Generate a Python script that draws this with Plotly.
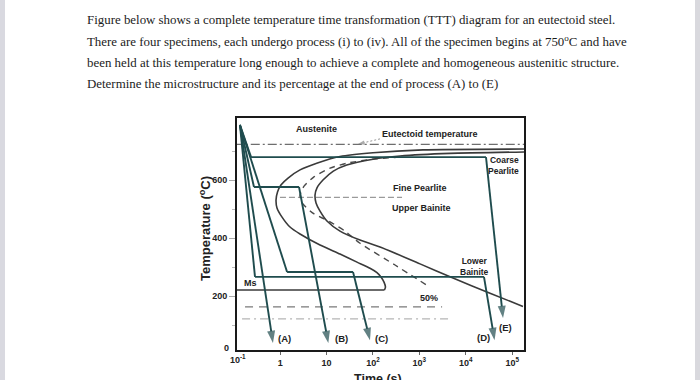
import plotly.graph_objects as go
import math

# ---------------- data (time in s, temperature in degC) ----------------
start_t = [1.8e5, 1200, 100, 19.5, 6.14, 2.68, 1.48, 1.04, 0.877, 0.815,
           0.855, 1.08, 1.63, 2.68, 7.23, 19.5, 45.3, 86.3, 122, 149, 173, 186, 177]
start_T = [707, 704, 694, 681, 658, 635, 607, 583, 559, 531,
           504, 474, 438, 414, 376, 345, 317, 296, 281, 266, 248, 231, 221]

half_t = [383, 111, 27.2, 11.9, 5.36, 3.27, 2.68, 2.96, 5.18, 11.9, 24.9, 51.6, 299, 1535]
half_T = [679, 673, 658, 641, 611, 579, 548, 521, 485, 456, 424, 383, 307, 235]

finish_t = [1.8e5, 4570, 383, 100, 27.2, 14.0, 8.37, 6.22, 5.64, 5.93, 7.23, 10.2,
            19.5, 52.5, 142, 1033, 5310, 33300, 1.71e5]
finish_T = [697, 692, 683, 672, 652, 631, 600, 573, 548, 521, 493, 459,
            424, 393, 369, 311, 262, 210, 164]

# cooling paths (A)-(E)
path_A_t = [0.136, 0.70]
path_A_T = [790, 38]
path_B_t = [0.136, 0.273, 2.55, 10.9]
path_B_T = [790, 576, 576, 38]
path_C_t = [0.136, 1.41, 37.2, 86.3]
path_C_T = [790, 283, 283, 48]
path_D_t = [0.136, 0.287, 24700, 41700]
path_D_T = [790, 266, 266, 48]
path_E_t = [0.136, 0.236, 27300, 63500]
path_E_T = [790, 679, 679, 124]

# reference lines
eutectoid_t = [0.1, 2.0e5]
eutectoid_T = [723, 723]
boundary_t = [0.99, 423]
boundary_T = [540, 540]
ms_t = [0.1, 177]
ms_T = [221, 221]
m50_t = [0.175, 3090]
m50_T = [163, 163]
m90_t = [0.151, 4570]
m90_T = [121, 121]
eut_arrow_t = [142, 47.6]
eut_arrow_T = [742, 724]

x_tickvals = [1, 10, 100, 1000, 1e4, 1e5]
x_ticktext = ["1", "10", "10<sup>2</sup>", "10<sup>3</sup>", "10<sup>4</sup>", "10<sup>5</sup>"]
y_tickvals = [200, 400, 600]

region_labels = ["Austenite", "Eutectoid temperature", "Coarse<br>Pearlite", "Fine Pearlite",
                 "Upper Bainite", "Lower<br>Bainite", "50%", "Ms"]
region_t = [5.93, 1700, 1.55e5, 1033, 1120, 15800, 1620, 0.151]
region_T = [775, 759, 649, 572, 503, 302, 192, 244]

path_labels = ["(A)", "(B)", "(C)", "(D)", "(E)"]
path_label_t = [1.27, 21.2, 149, 24700, 72400]
path_label_T = [52, 52, 52, 56, 93]

paragraph = [
    "Figure below shows a complete temperature time transformation (TTT) diagram for an eutectoid steel.",
    "There are four specimens, each undergo process (i) to (iv). All of the specimen begins at 750<sup>o</sup>C and have",
    "been held at this temperature long enough to achieve a complete and homogeneous austenitic structure.",
    "Determine the microstructure and its percentage at the end of process (A) to (E)",
]

# ---------------- styling ----------------
TEAL = "#1f4c4e"
CURVE = "#3a3a3a"
SANS = "Liberation Sans"
SERIF = "Liberation Serif"

# plot area in pixels (for paper-coordinate placement of page elements)
L, R, T_, B = 237, 524, 118, 350
W, H = 700, 380


def px(xp):
    return (xp - L) / (R - L)


def py(yp):
    return (B - yp) / (B - T_)


fig = go.Figure()


def line(t, T, color, width, dash="solid", shape="linear"):
    fig.add_trace(go.Scatter(x=t, y=T, mode="lines",
                             line=dict(color=color, width=width, dash=dash, shape=shape,
                                       smoothing=0.6),
                             hoverinfo="skip", showlegend=False))


def arrow_path(t, T, color, width, size=13, dash="solid"):
    n = len(t)
    fig.add_trace(go.Scatter(
        x=t, y=T, mode="lines+markers",
        line=dict(color=color, width=width, dash=dash),
        marker=dict(symbol=["circle"] * (n - 1) + ["arrow"],
                    size=[0] * (n - 1) + [size],
                    angleref="previous", color=color,
                    line=dict(width=0)),
        hoverinfo="skip", showlegend=False))


# reference lines
line(eutectoid_t, eutectoid_T, "#6e6e6e", 1.2, "9px,3px,2px,3px")
line(boundary_t, boundary_T, "#9a9a9a", 1.2, "6px,3px")
line(m50_t, m50_T, "#7a7a7a", 1.3, "8px,6px")
line(m90_t, m90_T, "#b5b5b5", 1.2, "8px,4px,2px,4px")
line(ms_t, ms_T, CURVE, 1.5)

# C curves
line(start_t, start_T, CURVE, 1.6, shape="spline")
line(half_t, half_T, "#4a4a4a", 1.4, dash="6px,5px", shape="spline")
line(finish_t, finish_T, CURVE, 1.6, shape="spline")

# eutectoid pointer
arrow_path(eut_arrow_t, eut_arrow_T, "#888888", 0.9, size=7, dash="2px,2px")

# cooling paths
for pt, pT in [(path_A_t, path_A_T), (path_B_t, path_B_T), (path_C_t, path_C_T),
               (path_D_t, path_D_T), (path_E_t, path_E_T)]:
    arrow_path(pt, pT, TEAL, 1.9)

annotations = []
for txt, t, T in zip(region_labels, region_t, region_T):
    anchor = "center"
    if txt.startswith("Coarse"):
        anchor = "right"
    if txt == "Ms":
        anchor = "left"
    annotations.append(dict(x=math.log10(t), y=T, xref="x", yref="y", text=txt,
                            showarrow=False, xanchor=anchor, yanchor="middle",
                            align="right" if anchor == "right" else "center",
                            font=dict(family=SANS, size=8.5 if "<br>" in txt else 9,
                                      color="#222", weight="bold")))
for txt, t, T in zip(path_labels, path_label_t, path_label_T):
    annotations.append(dict(x=math.log10(t), y=T, xref="x", yref="y", text=txt,
                            showarrow=False, xanchor="center", yanchor="middle",
                            font=dict(family=SANS, size=9.5, color="#222", weight="bold")))

# tick labels outside the axis range
annotations.append(dict(x=px(238), y=py(359), xref="paper", yref="paper",
                        text="10<sup>-1</sup>", showarrow=False, xanchor="center",
                        yanchor="middle",
                        font=dict(family=SANS, size=9, color="#222", weight="bold")))
annotations.append(dict(x=px(231), y=py(348), xref="paper", yref="paper", text="0",
                        showarrow=False, xanchor="right", yanchor="middle",
                        font=dict(family=SANS, size=9, color="#222", weight="bold")))

# axis titles
annotations.append(dict(x=px(205), y=py(229), xref="paper", yref="paper",
                        text="Temperature (<sup>o</sup>C)", textangle=-90, showarrow=False,
                        xanchor="center", yanchor="middle",
                        font=dict(family=SANS, size=13, color="#222", weight="bold")))
annotations.append(dict(x=px(378), y=py(379), xref="paper", yref="paper",
                        text="Time (s)", showarrow=False, xanchor="center", yanchor="middle",
                        font=dict(family=SANS, size=12.5, color="#222", weight="bold")))

# paragraph text
for i, txt in enumerate(paragraph):
    annotations.append(dict(x=px(85), y=py(20 + i * 21.3), xref="paper", yref="paper",
                            text=txt, showarrow=False, xanchor="left", yanchor="middle",
                            font=dict(family=SERIF, size=12.9, color="#1c1c1c")))

# thin grey page edges of the screenshot
shapes = [
    dict(type="line", xref="paper", yref="paper", x0=px(2.5), x1=px(2.5), y0=py(H + 5),
         y1=py(-5), line=dict(color="#d9d9e0", width=5), layer="above"),
    dict(type="line", xref="paper", yref="paper", x0=px(697.5), x1=px(697.5), y0=py(H + 5),
         y1=py(-5), line=dict(color="#d9d9de", width=5), layer="above"),
]

fig.update_layout(
    width=W, height=H,
    margin=dict(l=L, r=W - R, t=T_, b=H - B, pad=0),
    paper_bgcolor="white", plot_bgcolor="white",
    showlegend=False,
    annotations=annotations,
    shapes=shapes,
    xaxis=dict(type="log", range=[-0.93, 5.255], tickvals=x_tickvals, ticktext=x_ticktext,
               showline=True, mirror=True, linecolor="#1a1a1a", linewidth=1.6,
               ticks="outside", ticklen=3, tickcolor="#666", showgrid=False, zeroline=False,
               tickfont=dict(family=SANS, size=9, color="#222", weight="bold")),
    yaxis=dict(range=[14, 814], tickvals=y_tickvals,
               showline=True, mirror=True, linecolor="#1a1a1a", linewidth=1.6,
               ticks="outside", ticklen=6, tickcolor="#aaa", showgrid=False, zeroline=False,
               minor=dict(tickvals=[100, 300, 500, 700], ticks="outside", ticklen=3,
                          tickcolor="#bbb"),
               tickfont=dict(family=SANS, size=9, color="#222", weight="bold")),
)

fig.write_html("out.html", config={"displayModeBar": False},
               post_script="document.body.style.margin='0px';")
